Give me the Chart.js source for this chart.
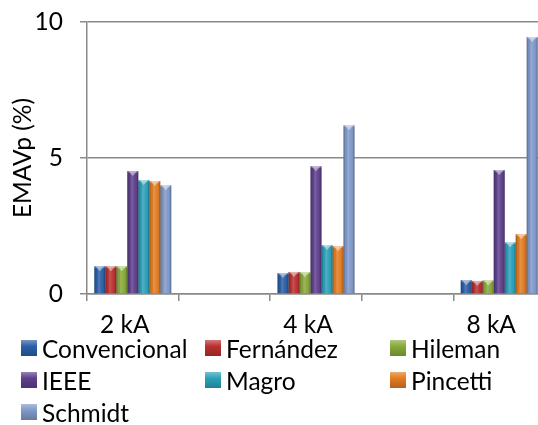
<!DOCTYPE html>
<html>
<head>
<meta charset="utf-8">
<script src="https://cdn.jsdelivr.net/npm/chart.js@4/dist/chart.umd.min.js"></script>
<style>
  html, body { margin: 0; padding: 0; background: #fff; overflow: hidden; width: 538px; height: 425px; }
  #wrap { position: relative; width: 545px; height: 345px; }
  #legend { position: absolute; left: 0; top: 0; width: 538px; height: 425px; pointer-events: none;
            font-family: Lato, "Open Sans", sans-serif; font-size: 24.5px; color: #000; }
  .item { position: absolute; display: flex; align-items: center; height: 28px; white-space: nowrap; }
  .box { width: 16px; height: 16px; margin-right: 5px; position: relative; overflow: hidden; }
</style>
</head>
<body>
<div id="wrap"><canvas id="c"></canvas></div>
<div id="legend"></div>
<script>
// Current levels; the blank categories leave a gap between groups
const categories = ['2 kA', '', '4 kA', '', '8 kA'];

const seriesNames = ['Convencional', 'Fernández', 'Hileman', 'IEEE', 'Magro', 'Pincetti', 'Schmidt'];

const convencional = [1.02, null, 0.77, null, 0.51];
const fernandez    = [1.02, null, 0.81, null, 0.48];
const hileman      = [1.02, null, 0.80, null, 0.50];
const ieee         = [4.52, null, 4.70, null, 4.56];
const magro        = [4.19, null, 1.80, null, 1.90];
const pincetti     = [4.15, null, 1.76, null, 2.20];
const schmidt      = [4.00, null, 6.20, null, 9.45];

const yTicks = [0, 5, 10];

const seriesColors = ['#2b5ea6', '#b9302e', '#87a83a', '#5e3f8c', '#2ba0b9', '#e27b21', '#7f98c9'];

const values = [convencional, fernandez, hileman, ieee, magro, pincetti, schmidt];

const datasets = seriesNames.map((name, i) => ({
  label: name,
  data: values[i],
  backgroundColor: seriesColors[i],
  borderWidth: 0,
  categoryPercentage: 0.84,
  barPercentage: 1.0
}));

// Bevelled look: shaded sides, lighter centre and a small chevron at the top
const bevel = {
  id: 'bevel',
  afterDatasetsDraw(chart) {
    const ctx = chart.ctx;
    ctx.save();
    chart.data.datasets.forEach((ds, di) => {
      const meta = chart.getDatasetMeta(di);
      meta.data.forEach((bar, idx) => {
        if (ds.data[idx] == null) return;
        const w = bar.width, l = bar.x - w / 2, r = bar.x + w / 2;
        const top = bar.y, base = bar.base;
        const g = ctx.createLinearGradient(l, 0, r, 0);
        g.addColorStop(0, 'rgba(0,0,0,0.30)');
        g.addColorStop(0.18, 'rgba(0,0,0,0.05)');
        g.addColorStop(0.40, 'rgba(255,255,255,0.18)');
        g.addColorStop(0.70, 'rgba(255,255,255,0.02)');
        g.addColorStop(0.88, 'rgba(0,0,0,0.10)');
        g.addColorStop(1, 'rgba(0,0,0,0.35)');
        ctx.fillStyle = g;
        ctx.fillRect(l, top, w, base - top);
        // top chevron
        ctx.beginPath();
        ctx.moveTo(l + 1, top);
        ctx.lineTo(r - 1, top);
        ctx.lineTo(bar.x, top + 5);
        ctx.closePath();
        ctx.fillStyle = 'rgba(255,255,255,0.45)';
        ctx.fill();
        ctx.fillStyle = 'rgba(255,255,255,0.25)';
        ctx.fillRect(l, top, w, 1.5);
      });
    });
    ctx.restore();
  }
};

const font = { family: 'Lato, "Open Sans", sans-serif', size: 24.5 };
const yTickFont = { family: 'Lato, "Open Sans", sans-serif', size: 24.5, lineHeight: 0.3 };
const gridGray = '#8a8a8a';

new Chart(document.getElementById('c'), {
  type: 'bar',
  data: { labels: categories, datasets },
  plugins: [bevel],
  options: {
    responsive: true,
    maintainAspectRatio: false,
    animation: false,
    layout: { padding: { top: 22, left: 0, right: 0, bottom: 0 } },
    plugins: { legend: { display: false }, tooltip: { enabled: false } },
    scales: {
      x: {
        grid: { drawOnChartArea: false, drawTicks: true, tickLength: 7, color: gridGray, lineWidth: 1.5 },
        border: { display: true, color: gridGray, width: 1.5 },
        ticks: { font, color: '#000', autoSkip: false, maxRotation: 0, padding: 9, labelOffset: -8 },
        afterFit(scale) { scale.height = 51; }
      },
      y: {
        min: 0, max: 10,
        afterBuildTicks(scale) { scale.ticks = yTicks.map(v => ({ value: v })); },
        grid: { color: gridGray, lineWidth: 1.5, tickLength: 7 },
        border: { display: true, color: gridGray, width: 1.5 },
        ticks: { font: yTickFont, color: '#000', padding: 17 },
        title: { display: true, text: 'EMAVp (%)', font, color: '#000', padding: { top: 8, bottom: 0 } },
        afterFit(scale) { scale.width = 87; }
      }
    }
  }
});

// Legend laid out in three columns under the axis
const legendEl = document.getElementById('legend');
const colX = [21, 205, 390];
const rowY = [348, 380, 412];
seriesNames.forEach((name, i) => {
  const item = document.createElement('div');
  item.className = 'item';
  item.style.left = colX[i % 3] + 'px';
  item.style.top = (rowY[Math.floor(i / 3)] - 14) + 'px';
  const box = document.createElement('div');
  box.className = 'box';
  box.style.background =
    'linear-gradient(180deg, rgba(255,255,255,0.35) 0%, rgba(255,255,255,0) 40%, rgba(0,0,0,0.2) 100%), ' + seriesColors[i];
  const txt = document.createElement('span');
  txt.textContent = name;
  item.appendChild(box);
  item.appendChild(txt);
  legendEl.appendChild(item);
});
</script>
</body>
</html>
